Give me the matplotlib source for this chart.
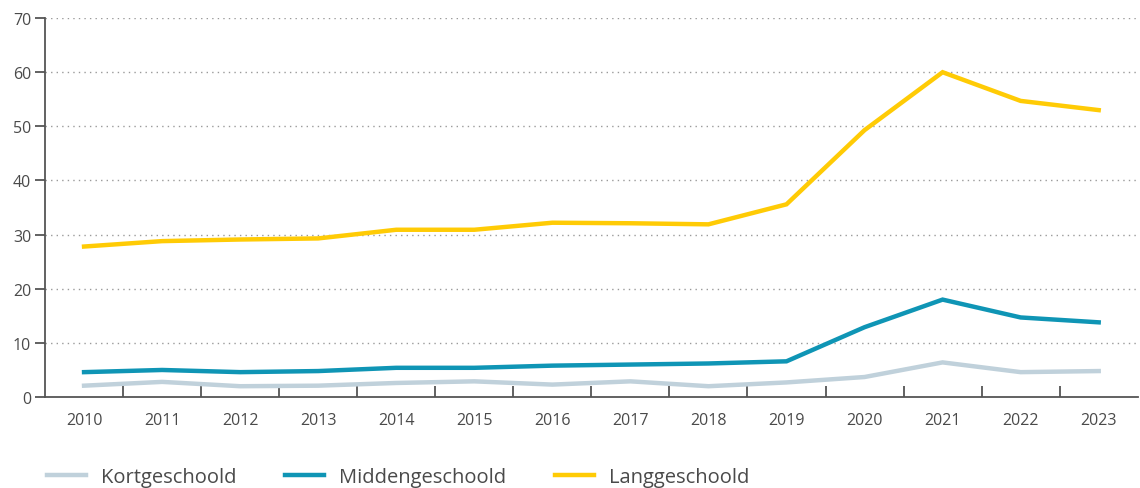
import matplotlib
matplotlib.use('Agg')
import matplotlib.pyplot as plt
import numpy as np

years = ['2010', '2011', '2012', '2013', '2014', '2015', '2016',
         '2017', '2018', '2019', '2020', '2021', '2022', '2023']
kort = [2.1, 2.8, 2.0, 2.1, 2.6, 2.9, 2.3, 2.9, 2.0, 2.7, 3.7, 6.4, 4.6, 4.8]
midden = [4.6, 5.0, 4.6, 4.8, 5.4, 5.4, 5.8, 6.0, 6.2, 6.6, 12.9, 18.0, 14.7, 13.8]
lang = [27.8, 28.8, 29.1, 29.3, 30.9, 30.9, 32.2, 32.1, 31.9, 35.6, 49.3, 60.0, 54.7, 53.0]

plt.rcParams['font.family'] = ['Open Sans', 'DejaVu Sans']
txt = '#4a4a4a'

fig = plt.figure(figsize=(11.4, 4.89), dpi=100)
ax = fig.add_axes([0.0395, 0.186, 0.9585, 0.775])

x = np.arange(len(years))
ax.plot(x, kort, color='#c0d1db', lw=3.2, label='Kortgeschoold', solid_joinstyle='miter')
ax.plot(x, midden, color='#0f95b5', lw=3.2, label='Middengeschoold', solid_joinstyle='miter')
ax.plot(x, lang, color='#ffcb05', lw=3.2, label='Langgeschoold', solid_joinstyle='miter')

ax.set_xlim(-0.5, len(years) - 0.5)
ax.set_ylim(0, 70)
ax.set_yticks(range(0, 71, 10))
ax.set_xticks(x)
ax.set_xticklabels(years)
ax.set_xticks(np.arange(0.5, len(years) - 1, 1), minor=True)

for y in range(10, 71, 10):
    ax.axhline(y, color='#9a9a9a', lw=1.0, ls=(0, (1, 3)), zorder=0)

for s in ['top', 'right']:
    ax.spines[s].set_visible(False)
for s in ['left', 'bottom']:
    ax.spines[s].set_color('#555555')
    ax.spines[s].set_linewidth(1.3)

ax.tick_params(axis='y', direction='out', length=7, width=1.3, color='#555555',
               labelsize=11.5, labelcolor=txt, pad=3)
ax.tick_params(axis='x', which='major', length=0, labelsize=11.5, labelcolor=txt, pad=11)
ax.tick_params(axis='x', which='minor', direction='in', length=8, width=1.3, color='#555555')

leg = fig.legend(loc='lower left', bbox_to_anchor=(0.025, -0.036), ncol=3, frameon=False,
                 fontsize=14.5, handlelength=1.95, handletextpad=0.75, columnspacing=2.4)
for t in leg.get_texts():
    t.set_color(txt)

fig.savefig('out.png', dpi=100)
